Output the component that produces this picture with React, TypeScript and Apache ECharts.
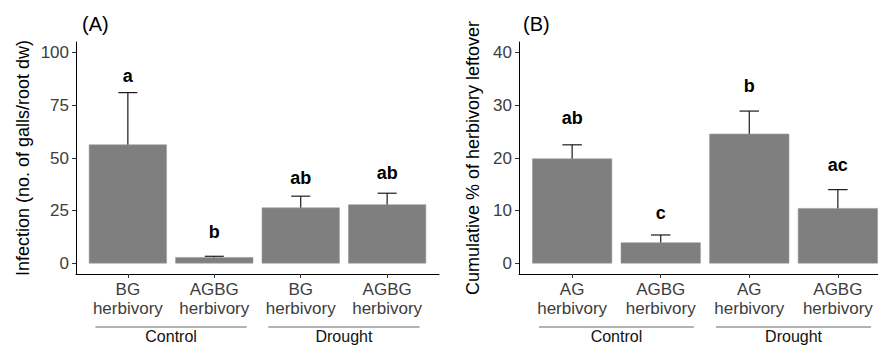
import React, { useEffect, useRef } from "react";
import * as echarts from "echarts";

const FONT = "Liberation Sans, Arial, Helvetica, sans-serif";

// Panel A
const catsA = ["BG\nherbivory", "AGBG\nherbivory", "BG\nherbivory", "AGBG\nherbivory"];
const meanA = [56.4, 3.0, 26.5, 28.0];
const lowA = [31.6, 2.3, 21.0, 22.6];
const highA = [81.0, 3.4, 31.9, 33.3];
const letterA = ["a", "b", "ab", "ab"];
const letterYA = [89, 15, 40.3, 42.8];
const ticksA = [0, 25, 50, 75, 100];

// Panel B
const catsB = ["AG\nherbivory", "AGBG\nherbivory", "AG\nherbivory", "AGBG\nherbivory"];
const meanB = [19.9, 4.0, 24.6, 10.5];
const lowB = [17.2, 2.5, 20.3, 6.9];
const highB = [22.5, 5.4, 28.9, 14.0];
const letterB = ["ab", "c", "b", "ac"];
const letterYB = [27.6, 9.6, 33.7, 18.6];
const ticksB = [0, 10, 20, 30, 40];

// Groups (category index ranges, 1-based)
const groupNames = ["Control", "Drought"];
const groupStart = [1, 3];
const groupEnd = [2, 4];

const positions = [1, 2, 3, 4];

function xAxisFor(cats: string[], gridIndex: number) {
  return {
    type: "value",
    gridIndex,
    min: 0.4,
    max: 4.6,
    splitLine: { show: false },
    axisLine: { show: true, onZero: false, lineStyle: { color: "#000", width: 1 } },
    axisTick: { show: true, length: 4, customValues: positions, lineStyle: { color: "#333" } },
    axisLabel: {
      customValues: positions,
      formatter: (v: number) => cats[Math.round(v) - 1] ?? "",
      fontSize: 17,
      lineHeight: 19,
      margin: 6,
      color: "#3d3d3d",
      fontFamily: FONT,
    },
  };
}

function yAxisFor(min: number, max: number, ticks: number[], gridIndex: number, name: string, gap: number) {
  return {
    type: "value",
    gridIndex,
    min,
    max,
    name,
    nameLocation: "middle",
    nameGap: gap,
    nameTextStyle: { fontSize: 18, color: "#000", fontFamily: FONT },
    splitLine: { show: false },
    axisLine: { show: true, onZero: false, lineStyle: { color: "#000", width: 1 } },
    axisTick: { show: true, length: 4, customValues: ticks, lineStyle: { color: "#333" } },
    axisLabel: {
      customValues: ticks,
      fontSize: 17,
      margin: 7,
      color: "#3d3d3d",
      fontFamily: FONT,
    },
  };
}

function panelSeries(
  idx: number,
  means: number[],
  lows: number[],
  highs: number[],
  letters: string[],
  letterY: number[],
  yMin: number,
  barWidth: number
) {
  return [
    {
      type: "bar",
      xAxisIndex: idx,
      yAxisIndex: idx,
      data: means.map((v, i) => [positions[i], v]),
      barWidth,
      itemStyle: { color: "#7f7f7f", borderColor: "#9a9a9a", borderWidth: 0.6 },
    },
    {
      type: "custom",
      xAxisIndex: idx,
      yAxisIndex: idx,
      data: lows.map((l, i) => [positions[i], l, highs[i]]),
      encode: { x: 0, y: [1, 2] },
      renderItem: (params: any, api: any) => {
        const x = api.value(0);
        const p1 = api.coord([x, api.value(1)]);
        const p2 = api.coord([x, api.value(2)]);
        const half = api.size([1, 0])[0] * 0.11;
        const st = { stroke: "#1a1a1a", lineWidth: 1.2 };
        return {
          type: "group",
          children: [
            { type: "line", shape: { x1: p1[0], y1: p1[1], x2: p2[0], y2: p2[1] }, style: st },
            { type: "line", shape: { x1: p1[0] - half, y1: p1[1], x2: p1[0] + half, y2: p1[1] }, style: st },
            { type: "line", shape: { x1: p2[0] - half, y1: p2[1], x2: p2[0] + half, y2: p2[1] }, style: st },
          ],
        };
      },
    },
    {
      type: "custom",
      xAxisIndex: idx,
      yAxisIndex: idx,
      data: letterY.map((y, i) => [positions[i], y]),
      encode: { x: 0, y: 1 },
      renderItem: (params: any, api: any) => {
        const p = api.coord([api.value(0), api.value(1)]);
        return {
          type: "text",
          x: p[0],
          y: p[1],
          style: {
            text: letters[params.dataIndex],
            fill: "#000",
            font: `bold 18px ${FONT}`,
            align: "center",
            verticalAlign: "middle",
          },
        };
      },
    },
    {
      type: "custom",
      xAxisIndex: idx,
      yAxisIndex: idx,
      clip: false,
      data: groupStart.map((s, i) => [s, groupEnd[i], yMin]),
      encode: { x: [0, 1], y: 2 },
      renderItem: (params: any, api: any) => {
        const a = api.coord([api.value(0), api.value(2)]);
        const b = api.coord([api.value(1), api.value(2)]);
        const band = api.size([1, 0])[0];
        const y = a[1] + 53;
        return {
          type: "group",
          children: [
            {
              type: "line",
              shape: { x1: a[0] - 0.375 * band, y1: y, x2: b[0] + 0.375 * band, y2: y },
              style: { stroke: "#666", lineWidth: 1 },
            },
            {
              type: "text",
              x: (a[0] + b[0]) / 2,
              y: y + 1,
              style: {
                text: groupNames[params.dataIndex],
                fill: "#111",
                font: `16px ${FONT}`,
                align: "center",
                verticalAlign: "top",
              },
            },
          ],
        };
      },
    },
  ];
}

export default function App() {
  const ref = useRef<HTMLDivElement>(null);
  useEffect(() => {
    if (!ref.current) return;
    const chart = echarts.init(ref.current, undefined, { renderer: "svg" });
    chart.setOption({
      animation: false,
      backgroundColor: "#fff",
      title: [
        { text: "(A)", left: 82, top: 14, padding: 0, textStyle: { fontSize: 20, fontWeight: "normal", color: "#000", fontFamily: FONT } },
        { text: "(B)", left: 523, top: 14, padding: 0, textStyle: { fontSize: 20, fontWeight: "normal", color: "#000", fontFamily: FONT } },
      ],
      grid: [
        { left: 76, top: 42, width: 363, height: 232 },
        { left: 519, top: 42, width: 372, height: 232 },
      ],
      xAxis: [xAxisFor(catsA, 0), xAxisFor(catsB, 1)],
      yAxis: [
        yAxisFor(-5, 105, ticksA, 0, "Infection (no. of galls/root dw)", 44),
        yAxisFor(-2, 42, ticksB, 1, "Cumulative % of herbivory leftover", 37),
      ],
      series: [
        ...panelSeries(0, meanA, lowA, highA, letterA, letterYA, -5, 78),
        ...panelSeries(1, meanB, lowB, highB, letterB, letterYB, -2, 80),
      ],
    });
    return () => chart.dispose();
  }, []);
  return (
    <div style={{ position: "fixed", left: 0, top: 0, width: 878, height: 345, overflow: "hidden", background: "#fff" }}>
      <div ref={ref} style={{ width: 900, height: 345 }} />
    </div>
  );
}
